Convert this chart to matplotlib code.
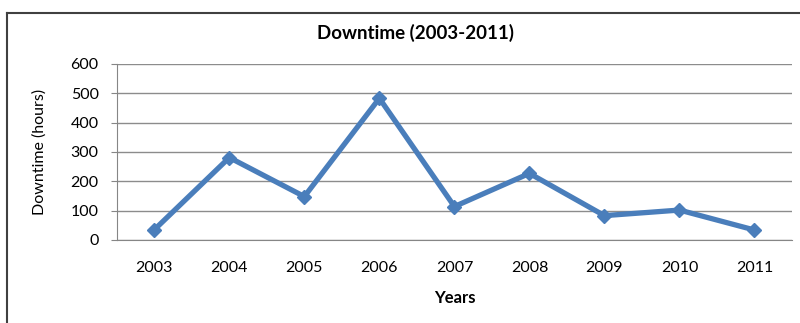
import matplotlib
matplotlib.use("Agg")
import matplotlib.pyplot as plt
from matplotlib.lines import Line2D

# downtime per year
years = ["2003", "2004", "2005", "2006", "2007", "2008", "2009", "2010", "2011"]
downtime = [35, 281, 148, 483, 114, 227, 83, 102, 34]
yticks = [0, 100, 200, 300, 400, 500, 600]

plt.rcParams["font.family"] = ["Lato", "DejaVu Sans"]

fig = plt.figure(figsize=(8, 3.23), dpi=100)
ax = fig.add_axes([0.146, 0.257, 0.844, 0.545])

x = list(range(len(years)))
ax.plot(x, downtime, color="#4A7EBB", lw=3.8, marker="D", markersize=7.5,
        solid_joinstyle="miter")

ax.set_xlim(-0.5, len(years) - 0.5)
ax.set_ylim(0, 600)
ax.set_yticks(yticks)
ax.set_xticks(x)
ax.set_xticklabels(years, fontsize=11.5)
ax.tick_params(axis="x", length=0, pad=15)
ax.tick_params(axis="y", length=4, color="#868686", labelsize=11.5, pad=9)

ax.grid(axis="y", color="#8C8C8C", lw=1)
ax.set_axisbelow(True)
for s in ["top", "right"]:
    ax.spines[s].set_visible(False)
for s in ["left", "bottom"]:
    ax.spines[s].set_color("#868686")

# title sits over the whole chart, not the plot area
fig.text(0.519, 1 - 33 / 323, "Downtime (2003-2011)", fontsize=13.5, fontweight="bold",
         ha="center", va="center")
ax.set_ylabel("Downtime (hours)", fontsize=11.5, labelpad=17)
ax.set_xlabel("Years", fontsize=12, fontweight="bold", labelpad=11)

# chart frame, cut off on the right and bottom
fig.add_artist(Line2D([0.009, 0.009], [0, 0.96], transform=fig.transFigure, color="#404040", lw=1.5))
fig.add_artist(Line2D([0.009, 1.0], [0.96, 0.96], transform=fig.transFigure, color="#404040", lw=1.5))

fig.savefig("out.png", dpi=100)
